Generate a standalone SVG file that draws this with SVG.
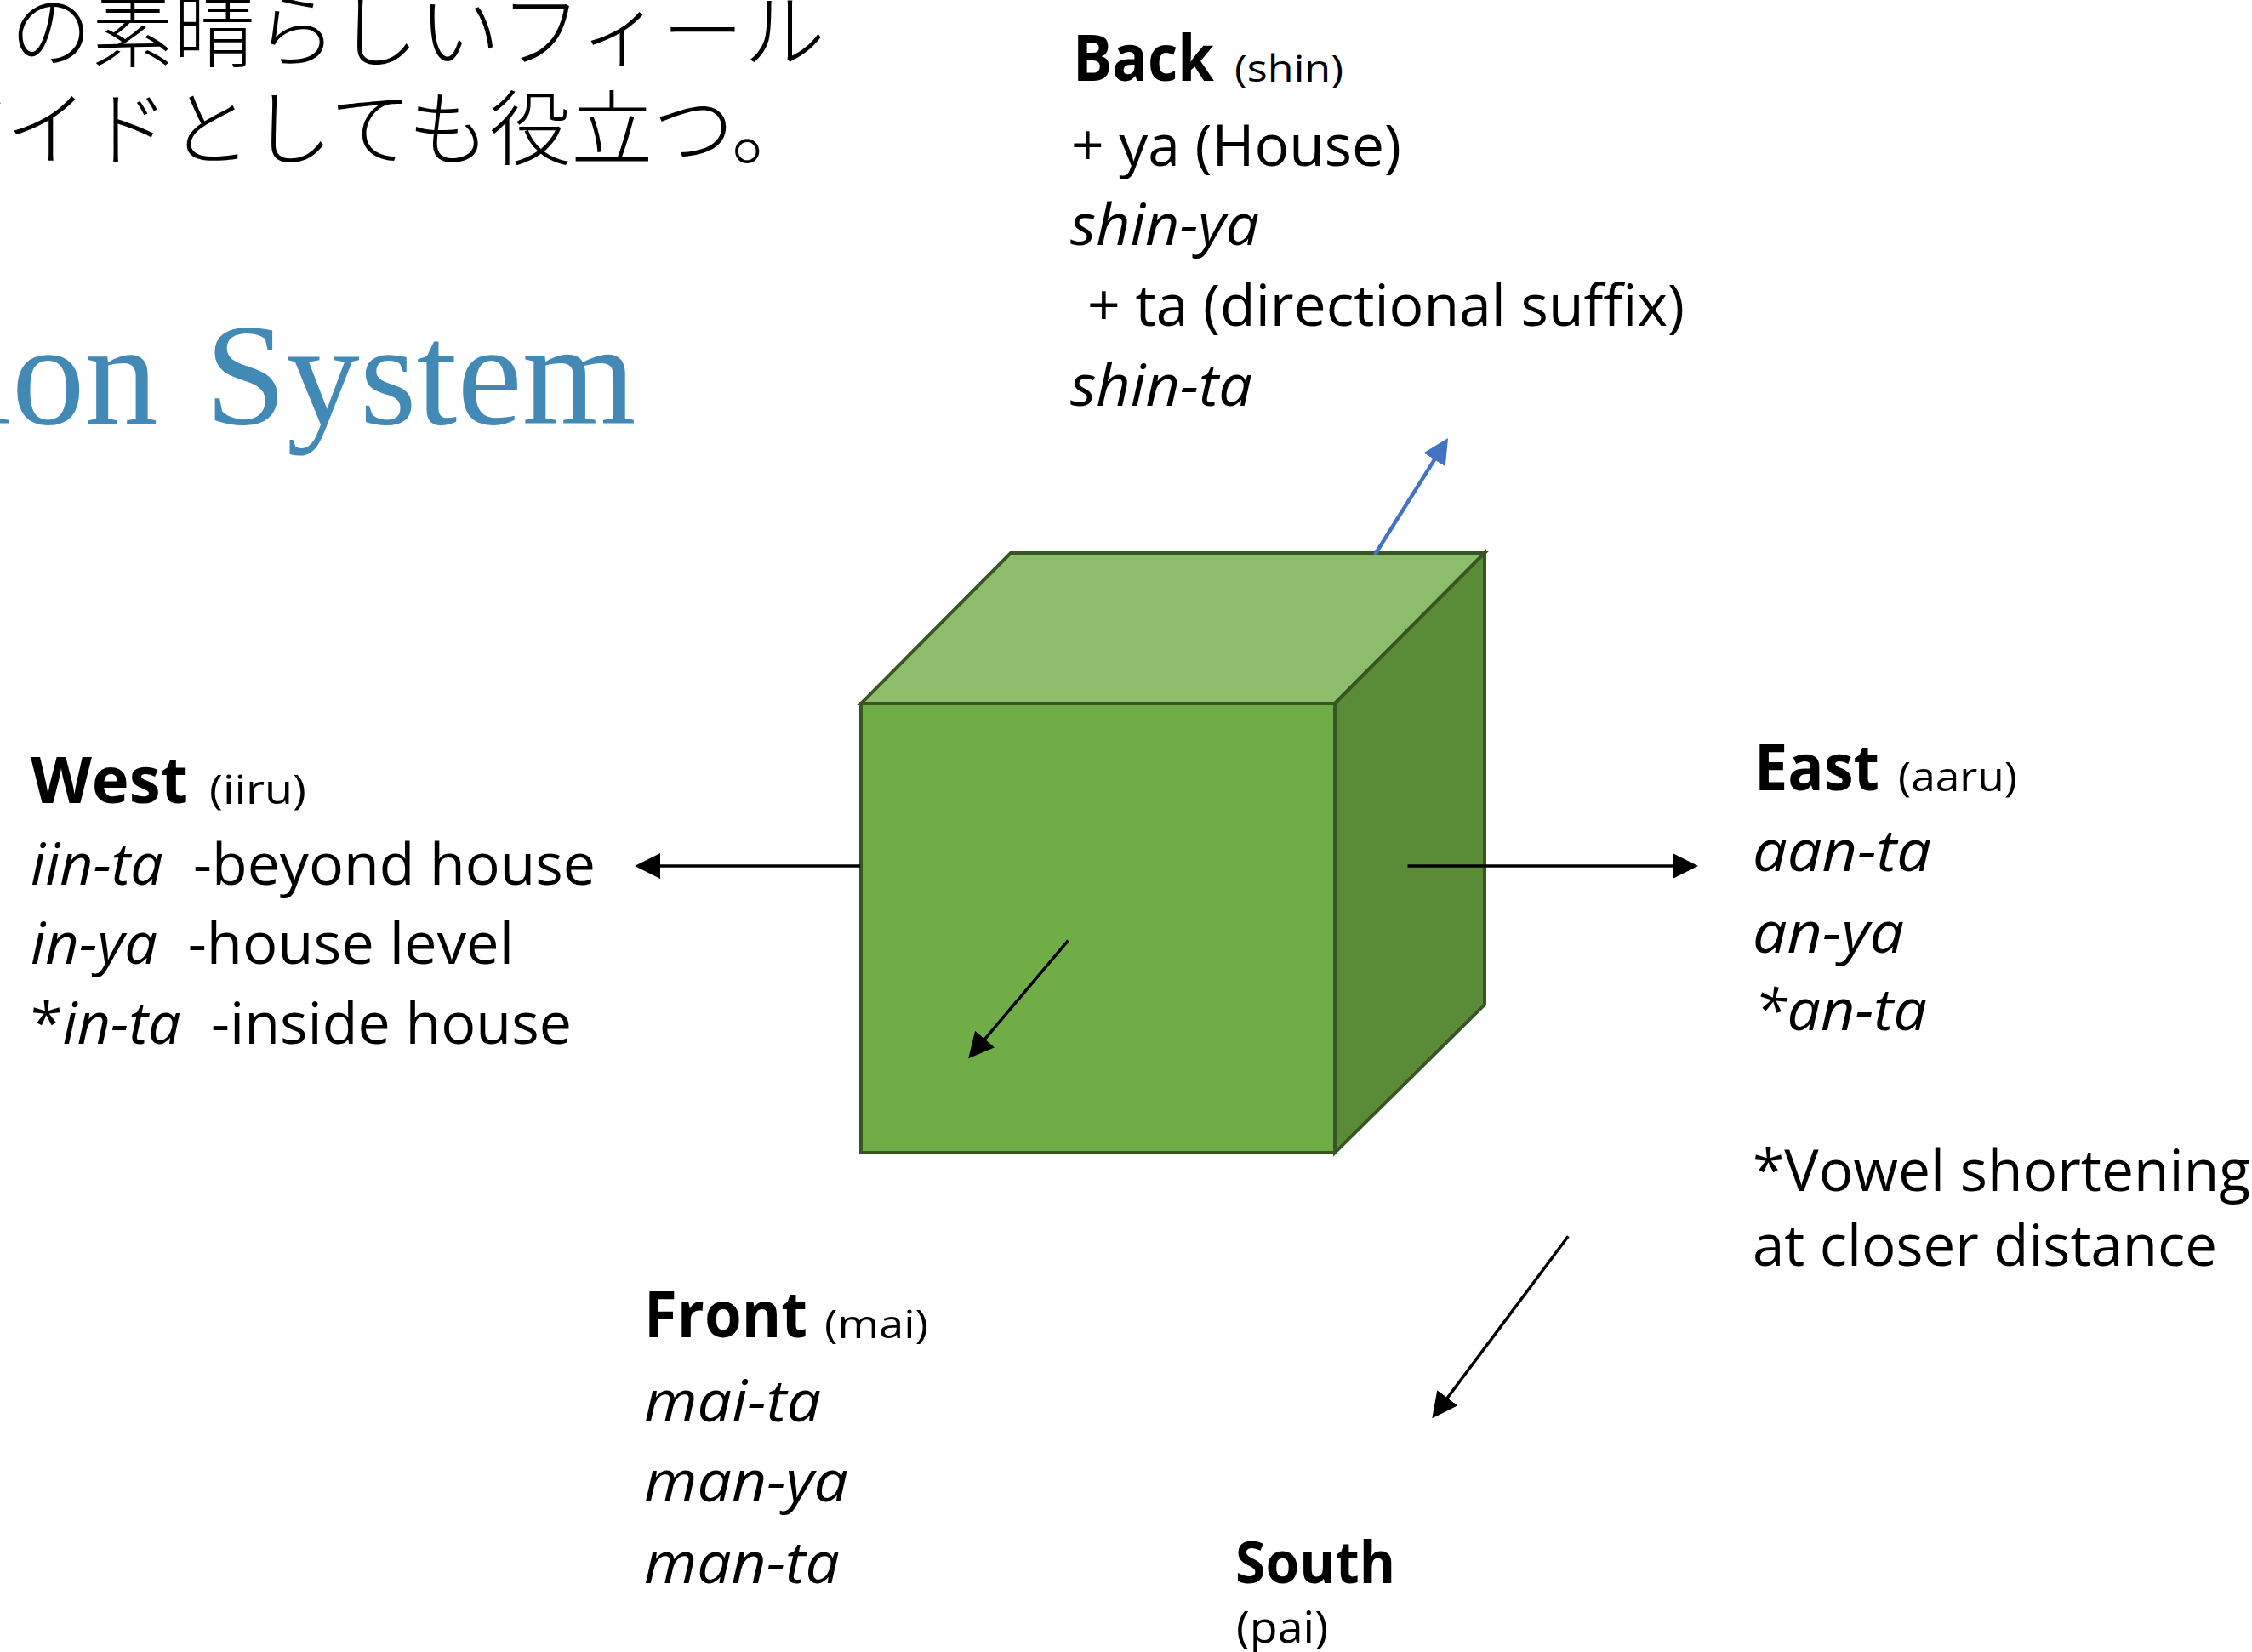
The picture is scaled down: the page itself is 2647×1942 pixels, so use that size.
<svg xmlns="http://www.w3.org/2000/svg" width="2647" height="1942" viewBox="0 0 2647 1942">
<defs>
<style>
.jp{font-family:"Noto Sans CJK JP","Noto Sans CJK SC",sans-serif;font-size:96px;font-weight:300;fill:#000}
.ttl{font-family:"Liberation Serif","Times New Roman",serif;font-size:172px;fill:#4389B6}
.hd{font-family:"Open Sans","Noto Sans",sans-serif;font-weight:700;font-size:76px;fill:#000}
.sm{font-family:"Open Sans","Noto Sans",sans-serif;font-size:42px;fill:#000}
.bd{font-family:"Open Sans","Noto Sans",sans-serif;font-size:68px;fill:#000}
.it{font-style:italic}
.face{stroke:#375623;stroke-width:4;stroke-linejoin:miter}
.arr{stroke:#000;stroke-width:3.5;fill:none}
.arrb{stroke:#4472C4;stroke-width:4.5;fill:none}
</style>
<marker id="ah" markerUnits="userSpaceOnUse" markerWidth="30" markerHeight="30" refX="10" refY="15" orient="auto" viewBox="0 0 30 30">
<path d="M0,0 L30,15 L0,30 z" fill="#000"/>
</marker>
<marker id="ahb" markerUnits="userSpaceOnUse" markerWidth="30" markerHeight="30" refX="10" refY="15" orient="auto" viewBox="0 0 30 30">
<path d="M0,0 L30,15 L0,30 z" fill="#4472C4"/>
</marker>
</defs>
<rect width="2647" height="1942" fill="#fff"/>

<g id="jp-text">
<text class="jp" x="12" y="71">の素晴らしいフィール</text>
<text class="jp" x="-89" y="186">ガイドとしても役立つ。</text>
</g>

<g id="title">
<text class="ttl" y="498"><tspan x="-34">ion</tspan><tspan x="241">System</tspan></text>
</g>

<g id="cube">
<polygon class="face" points="1012,827 1188,650 1745,650 1569,827" fill="#8DBD6B"/>
<polygon class="face" points="1569,827 1745,650 1745,1181 1569,1355" fill="#5A8C38"/>
<rect class="face" x="1012" y="827" width="557" height="528" fill="#70AD47"/>
</g>

<g id="connectors">
<line class="arrb" x1="1616" y1="652" x2="1691.4" y2="531.9" marker-end="url(#ahb)"/>
<line class="arr" x1="1011" y1="1018" x2="766" y2="1018" marker-end="url(#ah)"/>
<line class="arr" x1="1654.5" y1="1018" x2="1976" y2="1018" marker-end="url(#ah)"/>
<line class="arr" x1="1255.5" y1="1105.6" x2="1151.1" y2="1229.1" marker-end="url(#ah)"/>
<line class="arr" x1="1843.3" y1="1453.3" x2="1695.3" y2="1651.3" marker-end="url(#ah)"/>
</g>

<g id="back">
<text class="hd" x="1261" y="95" textLength="166" lengthAdjust="spacingAndGlyphs">Back</text>
<text class="sm" x="1451" y="96" textLength="128" lengthAdjust="spacingAndGlyphs" style="font-size:44px">(shin)</text>
<text class="bd" x="1259" y="195" textLength="388" lengthAdjust="spacingAndGlyphs">+ ya (House)</text>
<text class="bd it" x="1258" y="288" textLength="222" lengthAdjust="spacingAndGlyphs">shin-ya</text>
<text class="bd" x="1278" y="383" textLength="702" lengthAdjust="spacingAndGlyphs">+ ta (directional suffix)</text>
<text class="bd it" x="1258" y="477" textLength="214" lengthAdjust="spacingAndGlyphs">shin-ta</text>
</g>

<g id="west">
<text class="hd" x="36" y="944" textLength="185" lengthAdjust="spacingAndGlyphs">West</text>
<text class="sm" x="246" y="945" textLength="114" lengthAdjust="spacingAndGlyphs" style="font-size:48px">(iiru)</text>
<text class="bd" x="36" y="1040" textLength="664" lengthAdjust="spacingAndGlyphs" xml:space="preserve"><tspan class="it">iin-ta</tspan>  -beyond house</text>
<text class="bd" x="36" y="1133" textLength="568" lengthAdjust="spacingAndGlyphs" xml:space="preserve"><tspan class="it">in-ya</tspan>  -house level</text>
<text class="bd" x="36" y="1227" textLength="636" lengthAdjust="spacingAndGlyphs" xml:space="preserve">*<tspan class="it">in-ta</tspan>  -inside house</text>
</g>

<g id="east">
<text class="hd" x="2062" y="929" textLength="147" lengthAdjust="spacingAndGlyphs">East</text>
<text class="sm" x="2231" y="930" textLength="140" lengthAdjust="spacingAndGlyphs" style="font-size:48px">(aaru)</text>
<text class="bd it" x="2060" y="1024" textLength="210" lengthAdjust="spacingAndGlyphs">aan-ta</text>
<text class="bd it" x="2060" y="1120" textLength="178" lengthAdjust="spacingAndGlyphs">an-ya</text>
<text class="bd it" x="2062" y="1211" textLength="203" lengthAdjust="spacingAndGlyphs">*an-ta</text>
<text class="bd" x="2060" y="1400" textLength="585" lengthAdjust="spacingAndGlyphs">*Vowel shortening</text>
<text class="bd" x="2060" y="1488" textLength="546" lengthAdjust="spacingAndGlyphs">at closer distance</text>
</g>

<g id="front">
<text class="hd" x="757" y="1572" textLength="192" lengthAdjust="spacingAndGlyphs">Front</text>
<text class="sm" x="969" y="1573" textLength="122" lengthAdjust="spacingAndGlyphs" style="font-size:45px">(mai)</text>
<text class="bd it" x="757" y="1671" textLength="208" lengthAdjust="spacingAndGlyphs">mai-ta</text>
<text class="bd it" x="757" y="1765" textLength="240" lengthAdjust="spacingAndGlyphs">man-ya</text>
<text class="bd it" x="757" y="1861" textLength="230" lengthAdjust="spacingAndGlyphs">man-ta</text>
</g>

<g id="south">
<text class="hd" x="1452" y="1861" textLength="188" lengthAdjust="spacingAndGlyphs" style="font-size:68px">South</text>
<text class="sm" x="1453" y="1931" textLength="108" lengthAdjust="spacingAndGlyphs" style="font-size:52px">(pai)</text>
</g>
</svg>
